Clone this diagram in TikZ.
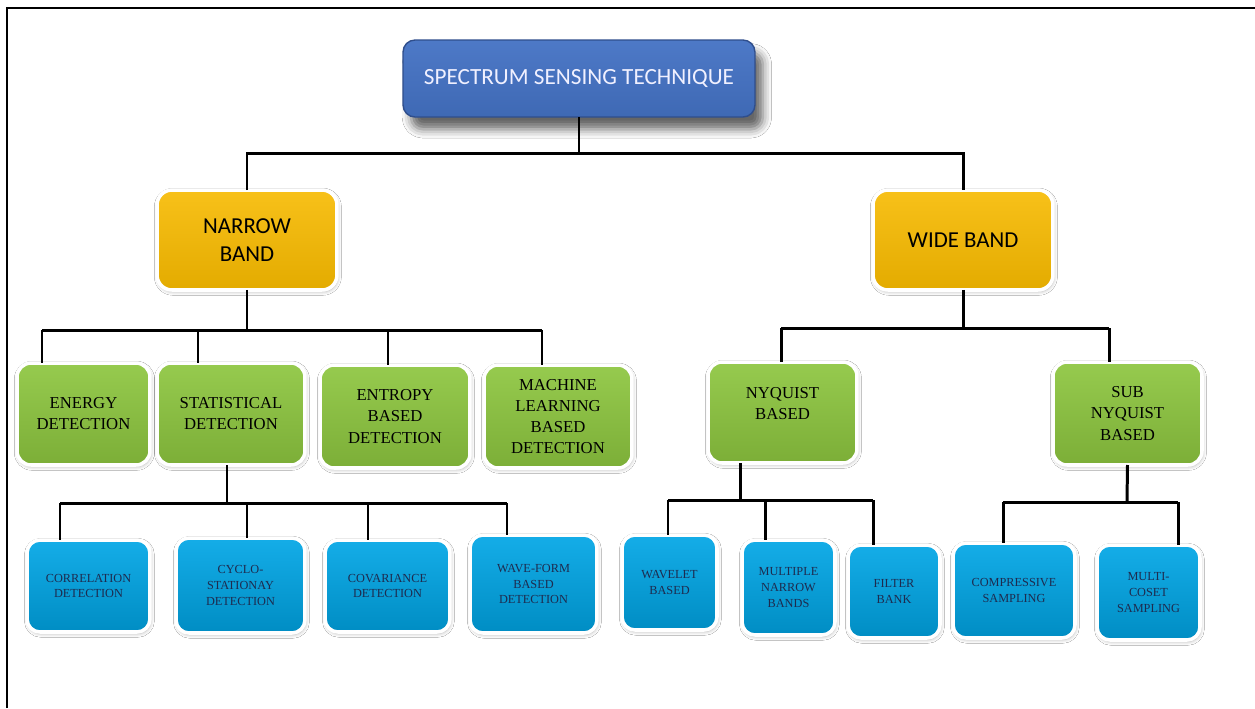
\documentclass[tikz,border=0pt]{standalone}
\usepackage{fontspec}
\setmainfont{Liberation Serif}
\newfontfamily\calibri{Carlito}
\usepackage{tikz}
\usetikzlibrary{calc,shadows.blur}
\definecolor{rootblue}{HTML}{4472C4}
\definecolor{rootedge}{HTML}{2F4E8C}
\definecolor{bandgold}{HTML}{F7BA00}
\definecolor{methgreen}{HTML}{8DC63F}
\definecolor{subblue}{HTML}{00A6E6}
\definecolor{subtext}{HTML}{1E2B4F}

\begin{document}
\begin{tikzpicture}[x=0.02cm,y=-0.02cm,
    conn/.style={line width=1.7pt,black},
    rootbox/.style={rectangle,rounded corners=0.24cm,draw=rootedge,line width=0.8pt,
        top color=rootblue!95!white,bottom color=rootblue!92!black,text=white!94!blue,
        font=\calibri\fontsize{13.2}{16}\selectfont,
        blur shadow={shadow xshift=4.5pt,shadow yshift=-7pt,shadow blur radius=5pt,shadow opacity=60},
        inner sep=0pt,outer sep=0pt},
    bandbox/.style={rectangle,rounded corners=0.3cm,draw=white,line width=2pt,
        top color=bandgold!90!white,bottom color=bandgold!92!black,text=black,
        font=\calibri\fontsize{13}{16}\selectfont,align=center,
        minimum width=3.6cm,minimum height=2cm,
        blur shadow={shadow xshift=0.5pt,shadow yshift=-1pt,shadow blur radius=2pt,shadow opacity=30},
        inner sep=0pt,outer sep=0pt},
    methbox/.style={rectangle,rounded corners=0.28cm,draw=white,line width=2pt,
        top color=methgreen!92!white,bottom color=methgreen!88!black,text=black,
        font=\fontsize{9.5}{12}\selectfont,align=center,
        blur shadow={shadow xshift=0.5pt,shadow yshift=-1pt,shadow blur radius=2pt,shadow opacity=30},
        inner sep=0pt,outer sep=0pt},
    subbox/.style={rectangle,rounded corners=0.26cm,draw=white,line width=2pt,
        top color=subblue!92!white,bottom color=subblue!85!black,text=subtext,
        font=\fontsize{7}{9}\selectfont,align=center,
        blur shadow={shadow xshift=0.5pt,shadow yshift=-1pt,shadow blur radius=2pt,shadow opacity=30},
        inner sep=0pt,outer sep=0pt}]

    % page and frame
    \fill[white] (0,0) rectangle (1255,708);
    \useasboundingbox (0,0) rectangle (1255,708);
    \draw[line width=1.2pt] (7,708) -- (7,8) -- (1255,8);

    % top level
    \node[rootbox,minimum width=7.04cm,minimum height=1.54cm] (root) at (579,78.5)
        {SPECTRUM SENSING TECHNIQUE};
    \node[bandbox] (nb) at (247,240) {NARROW\\BAND};
    \node[bandbox] (wb) at (963,240) {WIDE BAND};

    % narrow band methods
    \node[methbox,minimum width=2.66cm,minimum height=2.04cm] (en) at (83.5,414) {ENERGY\\DETECTION};
    \node[methbox,minimum width=2.96cm,minimum height=2.04cm] (st) at (231,414) {STATISTICAL\\DETECTION};
    \node[methbox,minimum width=3cm,minimum height=2.06cm] (ep) at (395,416.5) {ENTROPY\\BASED\\DETECTION};
    \node[methbox,minimum width=2.96cm,minimum height=2.06cm] (ml) at (558,416.5) {MACHINE\\LEARNING\\BASED\\DETECTION};

    % wide band methods
    \node[methbox,minimum width=2.98cm,minimum height=2.02cm] (nq) at (782.5,412.5) {NYQUIST\\BASED\\[-2pt]};
    \node[methbox,minimum width=2.98cm,minimum height=2.06cm] (sn) at (1127.5,413.5) {SUB\\NYQUIST\\BASED};

    % statistical detection types
    \node[subbox,minimum width=2.46cm,minimum height=1.84cm] (co) at (88.5,586) {CORRELATION\\DETECTION};
    \node[subbox,minimum width=2.58cm,minimum height=1.9cm] (cy) at (240.5,585.5) {CYCLO-\\STATIONAY\\DETECTION};
    \node[subbox,minimum width=2.5cm,minimum height=1.84cm] (cv) at (387.5,586) {COVARIANCE\\DETECTION};
    \node[subbox,minimum width=2.54cm,minimum height=1.96cm] (wf) at (533.5,584) {WAVE-FORM\\BASED\\DETECTION};

    % nyquist and sub nyquist types
    \node[subbox,minimum width=1.9cm,minimum height=1.9cm] (wl) at (669.5,582.5) {WAVELET\\BASED};
    \node[subbox,minimum width=1.86cm,minimum height=1.9cm] (mn) at (788.5,587.5) {MULTIPLE\\NARROW\\BANDS};
    \node[subbox,minimum width=1.84cm,minimum height=1.86cm] (fb) at (894,591.5) {FILTER\\BANK};
    \node[subbox,minimum width=2.44cm,minimum height=1.9cm] (cs) at (1014,590.5) {COMPRESSIVE\\SAMPLING};
    \node[subbox,minimum width=2.06cm,minimum height=1.9cm] (mc) at (1148.5,592.5) {MULTI-\\COSET\\SAMPLING};

    % connectors
    \coordinate (b1) at (579,153);
    \draw[conn] (root.south) -- (b1);
    \draw[conn] (nb.north) -- (nb.north |- b1) -- (wb.north |- b1) -- (wb.north);

    \coordinate (b2) at (247,330);
    \draw[conn] (nb.south) -- (b2);
    \draw[conn] (42,330) -- (542,330);
    \foreach \n/\x in {en/42, st/198, ep/388, ml/542}
    {
        \coordinate (t) at (\x,330);
        \draw[conn] (t) -- (t |- \n.north);
    }

    \coordinate (b3) at (963,328);
    \draw[conn] (wb.south) -- (b3);
    \draw[conn] (781,328) -- (1109,328);
    \foreach \n/\x in {nq/781, sn/1109}
    {
        \coordinate (t) at (\x,328);
        \draw[conn] (t) -- (t |- \n.north);
    }

    \coordinate (b4) at (227,503);
    \draw[conn] (b4 |- st.south) -- (b4);
    \draw[conn] (60,503) -- (507,503);
    \foreach \n/\x in {co/60, cy/247, cv/368, wf/507}
    {
        \coordinate (t) at (\x,503);
        \draw[conn] (t) -- (t |- \n.north);
    }

    \coordinate (b5) at (740,500);
    \draw[conn] (b5 |- nq.south) -- (b5);
    \draw[conn] (668,500) -- (873,500);
    \foreach \n/\x in {wl/668, mn/765, fb/873}
    {
        \coordinate (t) at (\x,500);
        \draw[conn] (t) -- (t |- \n.north);
    }

    \coordinate (b6) at (1127,502);
    \draw[conn] (sn.south) -- (b6);
    \draw[conn] (1003,502) -- (1178,502);
    \foreach \n/\x in {cs/1003, mc/1178}
    {
        \coordinate (t) at (\x,502);
        \draw[conn] (t) -- (t |- \n.north);
    }
\end{tikzpicture}
\end{document}
